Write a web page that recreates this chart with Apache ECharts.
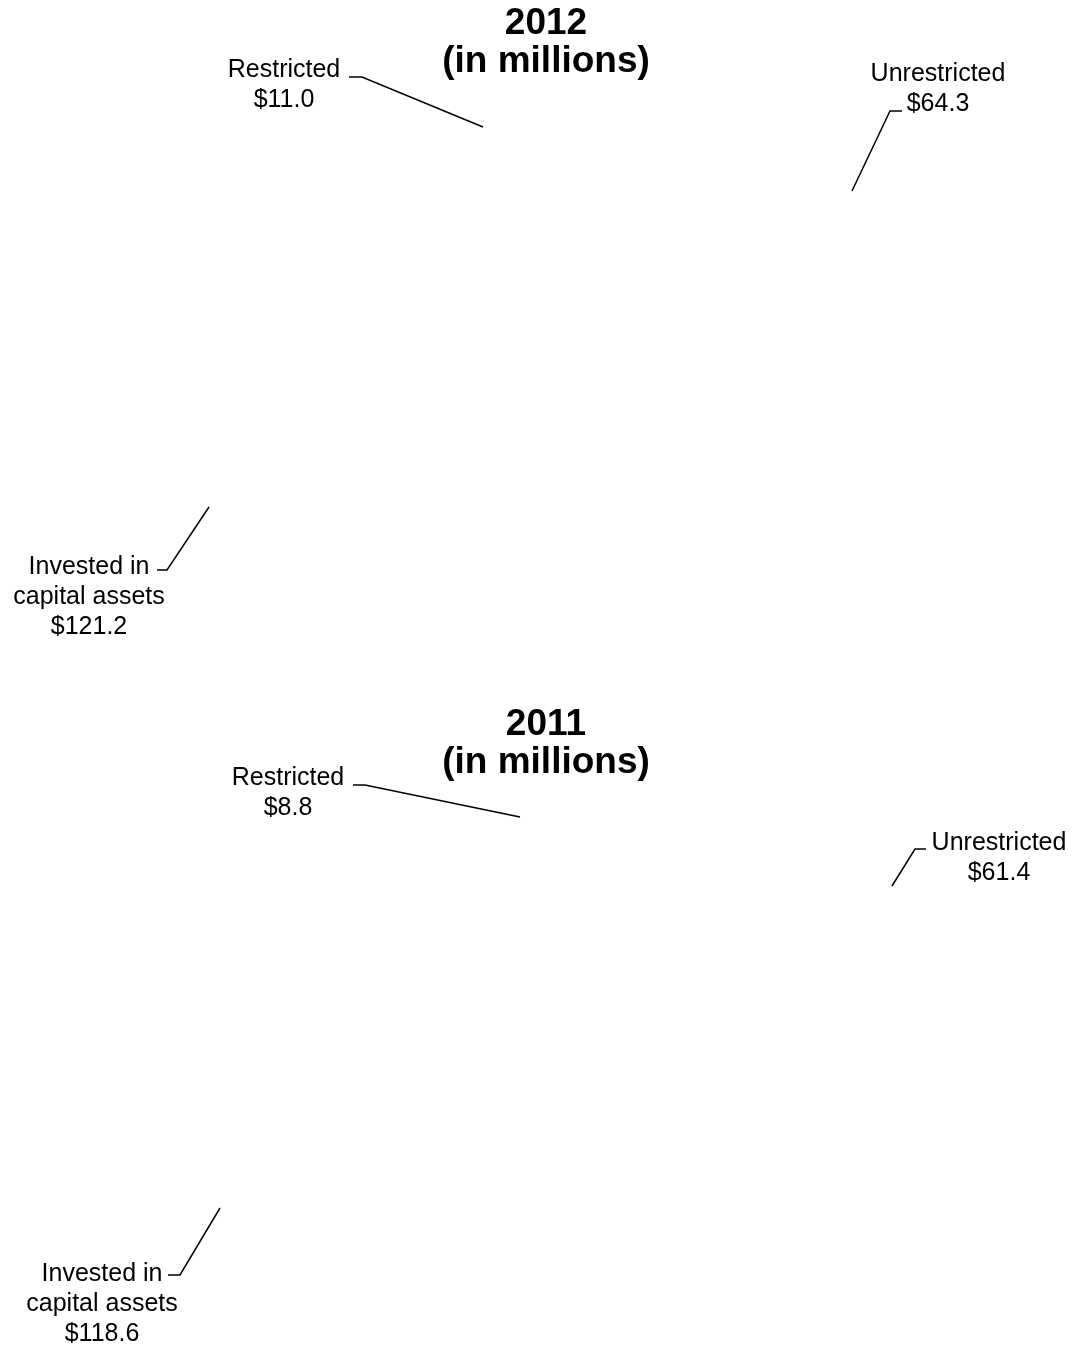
<!DOCTYPE html>
<html>
<head>
<meta charset="utf-8">
<title>Net position 2012 / 2011</title>
<script src="https://cdn.jsdelivr.net/npm/echarts@6/dist/echarts.min.js"></script>
<style>
  html, body { margin: 0; padding: 0; background: #fff; }
  #chart { width: 1075px; height: 1345px; }
</style>
</head>
<body>
<div id="chart"></div>
<script>
// data
const years = ['2012', '2011']
const categories = ['Invested in capital assets', 'Restricted', 'Unrestricted']
const labelNames = ['Invested in\ncapital assets', 'Restricted', 'Unrestricted']
const values2012 = [121.2, 11.0, 64.3]
const values2011 = [118.6, 8.8, 61.4]

// layout: pie placement, label boxes and leader lines (per year, per category)
const FONT = 'Liberation Sans, Arial, sans-serif'
const pieCenters = [[545, 390], [545, 1085]]
const titleTops = [5, 706]
const labelLayouts = [
  [
    { x: 89, y: 552, line: [[157, 570], [167, 570], [209, 507]] },
    { x: 284, y: 55, line: [[349, 77], [362, 77], [483, 127]] },
    { x: 938, y: 59, line: [[902, 111], [890, 111], [852, 191]] }
  ],
  [
    { x: 102, y: 1259, line: [[168, 1275], [180, 1275], [220, 1208]] },
    { x: 288, y: 763, line: [[353, 785], [365, 785], [520, 817]] },
    { x: 999, y: 828, line: [[926, 849], [915, 849], [892, 886]] }
  ]
]

const chart = echarts.init(document.getElementById('chart'))

// one pie per year; slices have no fill, only labels + leaders show
function pieSeries(idx, values) {
  return {
    type: 'pie',
    name: years[idx],
    center: pieCenters[idx],
    radius: 290,
    startAngle: -28,
    silent: true,
    animation: false,
    itemStyle: { color: 'rgba(255,255,255,0)', borderWidth: 0 },
    emphasis: { disabled: true },
    label: {
      show: true,
      position: 'outside',
      color: '#000',
      fontFamily: FONT,
      fontSize: 25,
      lineHeight: 30,
      formatter: p => labelNames[p.dataIndex] + '\n$' + p.value.toFixed(1)
    },
    labelLine: {
      show: true,
      lineStyle: { color: '#000', width: 1.5, opacity: 1 }
    },
    labelLayout: p => {
      const l = labelLayouts[idx][p.dataIndex]
      return {
        x: l.x,
        y: l.y,
        align: 'center',
        verticalAlign: 'top',
        labelLinePoints: l.line
      }
    },
    data: categories.map((c, i) => ({ name: c, value: values[i] }))
  }
}

chart.setOption({
  backgroundColor: '#fff',
  title: years.map((y, i) => ({
    text: y + '\n(in millions)',
    left: 546,
    top: titleTops[i],
    textAlign: 'center',
    padding: 0,
    textStyle: {
      fontFamily: FONT,
      fontSize: 37,
      fontWeight: 'bold',
      lineHeight: 38,
      color: '#000'
    }
  })),
  tooltip: { show: false },
  series: [pieSeries(0, values2012), pieSeries(1, values2011)]
})
</script>
</body>
</html>
